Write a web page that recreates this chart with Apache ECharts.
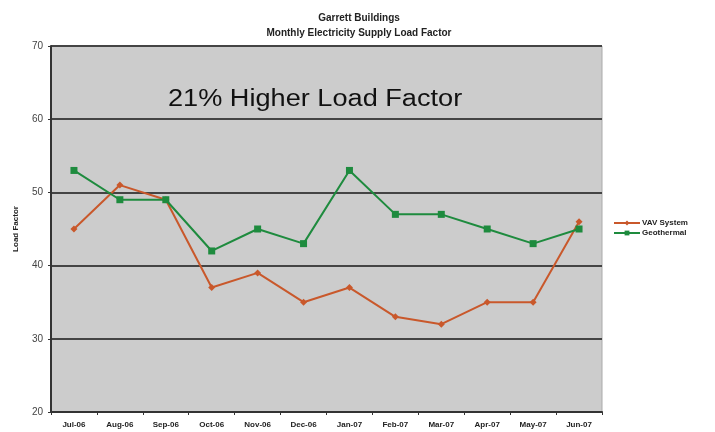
<!DOCTYPE html>
<html>
<head>
<meta charset="utf-8">
<script src="https://cdn.jsdelivr.net/npm/echarts@6/dist/echarts.min.js"></script>
<style>
html, body { margin: 0; padding: 0; background: #fff; }
#chart { width: 715px; height: 432px; }
</style>
</head>
<body>
<div id="chart"></div>
<script>
var months = ['Jul-06', 'Aug-06', 'Sep-06', 'Oct-06', 'Nov-06', 'Dec-06', 'Jan-07', 'Feb-07', 'Mar-07', 'Apr-07', 'May-07', 'Jun-07'];
var vavSystem = [45, 51, 49, 37, 39, 35, 37, 33, 32, 35, 35, 46];
var geothermal = [53, 49, 49, 42, 45, 43, 53, 47, 47, 45, 43, 45];

var chart = echarts.init(document.getElementById('chart'));
var option = {
    animation: false,
    textStyle: { fontFamily: 'Liberation Sans, Arial, sans-serif' },
    title: {
        text: 'Garrett Buildings\nMonthly Electricity Supply Load Factor',
        left: 354,
        textAlign: 'center',
        top: 6,
        textStyle: { fontSize: 10, fontWeight: 'bold', color: '#222', lineHeight: 15 }
    },
    grid: { left: 51, right: 113, top: 46, bottom: 20, containLabel: false,
        show: true, backgroundColor: '#cccccc', borderColor: '#aaaaaa', borderWidth: 1 },
    legend: {
        orient: 'vertical',
        left: 608,
        top: 214,
        itemWidth: 26,
        itemHeight: 6,
        itemGap: 2,
        textStyle: { fontSize: 8, fontWeight: 'bold', color: '#222', padding: [0, 0, 0, -3] },
        data: ['VAV System', 'Geothermal']
    },
    xAxis: {
        type: 'category',
        data: months,
        boundaryGap: true,
        axisLine: { lineStyle: { color: '#333', width: 2 } },
        axisTick: { show: true, length: 3, lineStyle: { color: '#333' } },
        axisLabel: { fontSize: 8, fontWeight: 'bold', color: '#222', margin: 9 }
    },
    yAxis: {
        type: 'value',
        min: 20,
        max: 70,
        interval: 10,
        name: 'Load Factor',
        nameLocation: 'middle',
        nameGap: 31,
        nameTextStyle: { fontSize: 8, fontWeight: 'bold', color: '#222' },
        axisLine: { show: true, lineStyle: { color: '#333', width: 2 } },
        axisTick: { show: true, length: 3, lineStyle: { color: '#333' } },
        axisLabel: { fontSize: 10, color: '#444', margin: 8 },
        splitLine: { lineStyle: { color: '#444', width: 2 } }
    },
    graphic: [{
        type: 'text',
        x: 168,
        y: 88,
        scaleX: 1.18,
        style: { text: '21% Higher Load Factor', fontSize: 23, fill: '#111',
            fontFamily: 'Liberation Sans, Arial, sans-serif' }
    }],
    series: [
        {
            name: 'VAV System',
            type: 'line',
            data: vavSystem,
            symbol: 'diamond',
            symbolSize: 7,
            itemStyle: { color: '#c9582b' },
            lineStyle: { color: '#c9582b', width: 2 }
        },
        {
            name: 'Geothermal',
            type: 'line',
            data: geothermal,
            symbol: 'rect',
            symbolSize: 7,
            itemStyle: { color: '#1e8b3e' },
            lineStyle: { color: '#1e8b3e', width: 2 }
        }
    ]
};
chart.setOption(option);
</script>
</body>
</html>
